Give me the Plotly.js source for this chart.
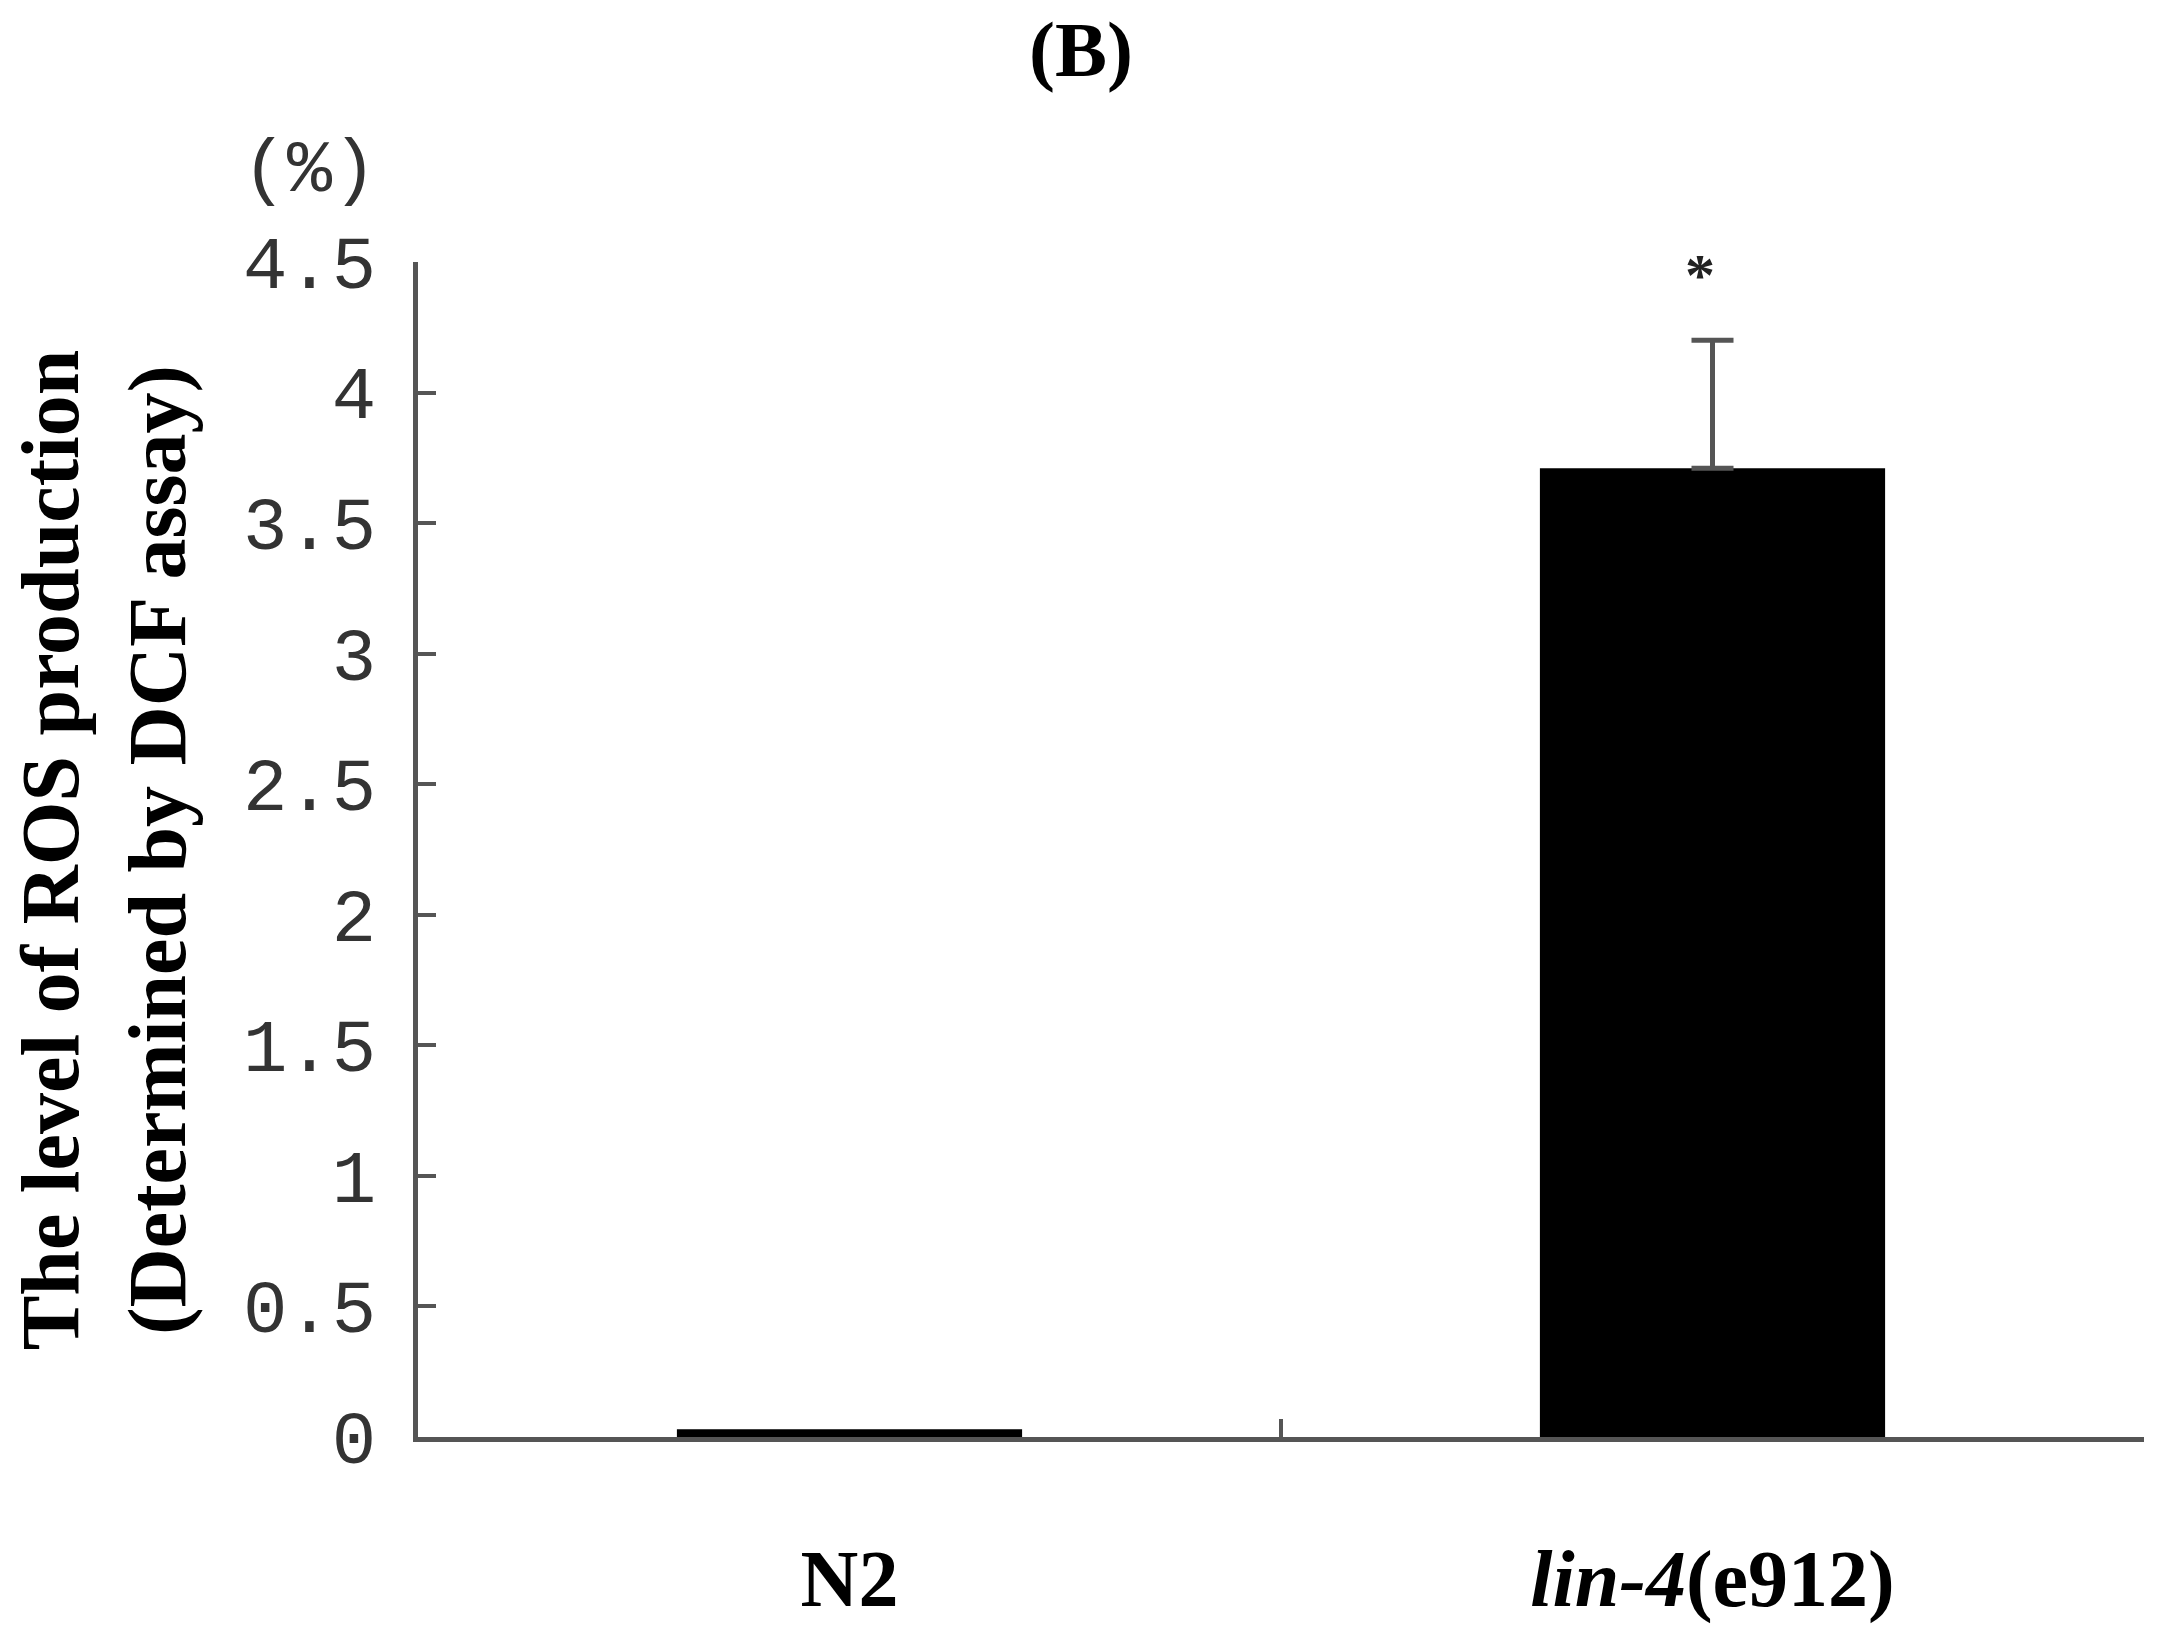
<!DOCTYPE html>
<html>
<head>
<meta charset="utf-8">
<script src="https://cdn.plot.ly/plotly-3.0.1.min.js"></script>
<style>
  html, body { margin: 0; padding: 0; background: #fff; }
  #chart { width: 2162px; height: 1625px; }
</style>
</head>
<body>
<div id="chart"></div>
<script>
// groups on the x axis
const groups = ['N2', '<i>lin-4</i>(e912)'];
// ROS level (%) and upper error (0 = none shown)
const rosLevel = [0.03, 3.71];
const rosError = [0, 0.49];
// y ticks
const yTickVals = [0, 0.5, 1, 1.5, 2, 2.5, 3, 3.5, 4, 4.5];
const yTickText = ['0', '0.5', '1', '1.5', '2', '2.5', '3', '3.5', '4', '4.5'];

const serif = 'Liberation Serif, Times New Roman, serif';
const mono = 'Liberation Mono, DejaVu Sans Mono, monospace';
const axisGrey = '#555';

// one trace per group so only bars with an error get an error bar
const traces = groups.map((g, i) => {
  const t = {
    type: 'bar',
    x: [g],
    y: [rosLevel[i]],
    width: 0.4,
    marker: { color: '#000', line: { width: 0 } },
    hoverinfo: 'none'
  };
  if (rosError[i] > 0) {
    t.error_y = {
      type: 'data',
      symmetric: false,
      array: [rosError[i]],
      arrayminus: [0],
      color: axisGrey,
      thickness: 5,
      width: 21
    };
  }
  return t;
});

const layout = {
  width: 2162,
  height: 1625,
  margin: { l: 418, r: 18, t: 262, b: 188 },
  paper_bgcolor: '#fff',
  plot_bgcolor: '#fff',
  showlegend: false,
  barmode: 'overlay',
  title: {
    text: '(B)',
    font: { family: serif, size: 78, color: '#000', weight: 'bold' },
    xref: 'container', x: 0.5, xanchor: 'center',
    yref: 'container', y: 0.97, yanchor: 'middle'
  },
  xaxis: {
    type: 'category',
    categoryarray: groups,
    range: [-0.5, 1.5],
    tickson: 'boundaries',
    ticks: 'inside',
    ticklen: 18,
    tickwidth: 4,
    tickcolor: axisGrey,
    showline: true,
    linewidth: 5,
    linecolor: axisGrey,
    showgrid: false,
    zeroline: false,
    automargin: false,
    ticklabelstandoff: 68,
    tickfont: { family: serif, size: 80, color: '#000', weight: 'bold' }
  },
  yaxis: {
    range: [0, 4.5],
    tickmode: 'array',
    tickvals: yTickVals,
    ticktext: yTickText,
    ticks: 'inside',
    ticklen: 18,
    tickwidth: 4,
    tickcolor: axisGrey,
    showline: true,
    linewidth: 5,
    linecolor: axisGrey,
    showgrid: false,
    zeroline: false,
    automargin: false,
    ticklabelstandoff: 22,
    tickfont: { family: mono, size: 74, color: '#333' }
  },
  annotations: [
    {
      text: '(%)',
      xref: 'paper', yref: 'paper',
      x: -0.063, y: 1.077,
      xanchor: 'center', yanchor: 'middle',
      showarrow: false,
      font: { family: mono, size: 75, color: '#333' }
    },
    {
      text: '*',
      xref: 'x', yref: 'y',
      x: groups[1], y: 4.45,
      xshift: -13,
      xanchor: 'center', yanchor: 'middle',
      showarrow: false,
      font: { family: serif, size: 60, color: '#222', weight: 'bold' }
    },
    {
      text: 'The level of ROS production<br>(Determined by DCF assay)',
      xref: 'paper', yref: 'paper',
      x: -0.182, y: 0.5,
      xanchor: 'center', yanchor: 'middle',
      textangle: -90,
      showarrow: false,
      font: { family: serif, size: 82, color: '#000', weight: 'bold' }
    }
  ]
};

Plotly.newPlot('chart', traces, layout, { staticPlot: true, displayModeBar: false });
</script>
</body>
</html>
